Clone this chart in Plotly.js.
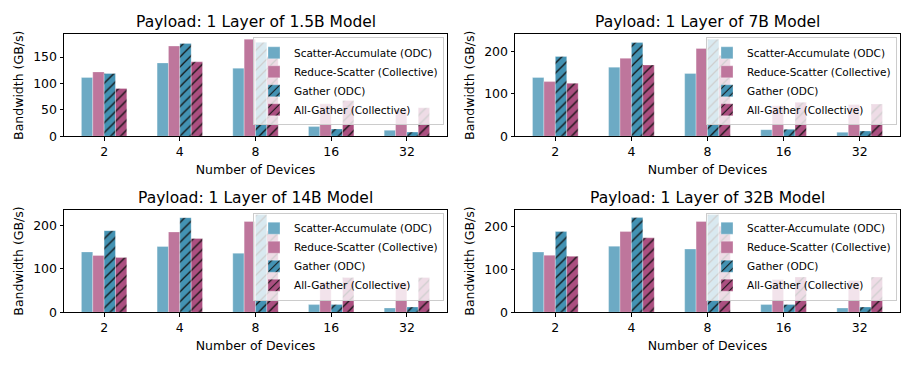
<!DOCTYPE html>
<html>
<head>
<meta charset="utf-8">
<script src="https://cdn.plot.ly/plotly-3.0.1.min.js"></script>
<style>
  html, body { margin: 0; padding: 0; background: #fff; }
  #chart { width: 914px; height: 366px; }
</style>
</head>
<body>
<div id="chart"></div>
<script>
// number of devices (x categories)
const devices = ['2', '4', '8', '16', '32'];
const seriesNames = ['Scatter-Accumulate (ODC)', 'Reduce-Scatter (Collective)', 'Gather (ODC)', 'All-Gather (Collective)'];
const panelTitles = [
  'Payload: 1 Layer of 1.5B Model',
  'Payload: 1 Layer of 7B Model',
  'Payload: 1 Layer of 14B Model',
  'Payload: 1 Layer of 32B Model'
];

// bandwidth in GB/s
const scatterAcc15B    = [111.5, 139, 129, 18.4, 11.4];
const reduceScatter15B = [122, 171, 184, 61.5, 51];
const gather15B        = [119, 176, 178, 14, 8];
const allGather15B     = [90.6, 141, 151, 68, 54];

const scatterAcc7B    = [138.6, 163, 148, 15.7, 9.4];
const reduceScatter7B = [129, 184, 207, 72, 75];
const gather7B        = [188, 221, 229, 16.5, 12.6];
const allGather7B     = [125, 168, 191, 80, 76];

const scatterAcc14B    = [139, 151.5, 136, 17.7, 10];
const reduceScatter14B = [131, 185, 209, 69, 68];
const gather14B        = [188, 218, 225, 17.7, 12.3];
const allGather14B     = [126, 170, 188, 80, 80];

const scatterAcc32B    = [140, 153.5, 147, 18, 10];
const reduceScatter32B = [132.5, 187.6, 211, 76, 73.6];
const gather32B        = [187.6, 220, 227, 18, 12.4];
const allGather32B     = [130, 173, 200, 82, 82];

const panels = [
  [scatterAcc15B, reduceScatter15B, gather15B, allGather15B],
  [scatterAcc7B, reduceScatter7B, gather7B, allGather7B],
  [scatterAcc14B, reduceScatter14B, gather14B, allGather14B],
  [scatterAcc32B, reduceScatter32B, gather32B, allGather32B]
];

// styling
const colors = ['#6daac4', '#be769c', '#4392b3', '#ab4f80'];
const hatched = [false, false, true, true];
const barW = 0.15;
const offsets = [-2 * barW, -barW, 0, barW];

const W = 914, H = 366;
// axes boxes in pixels: [left, right, top, bottom]
const boxes = [
  [64, 447, 34.3, 136.3],
  [515, 900, 34.3, 136.3],
  [64, 447, 209.7, 312.3],
  [515, 900, 209.7, 312.3]
];
const dticks = [50, 100, 100, 100];

const font = 'DejaVu Sans, sans-serif';
const xIdx = devices.map((d, i) => i);
const traces = [];
const layout = {
  width: W, height: H,
  margin: {l: 0, r: 0, t: 0, b: 0},
  paper_bgcolor: '#fff', plot_bgcolor: '#fff',
  barmode: 'overlay',
  font: {family: font, size: 12.5, color: '#000'},
  annotations: []
};

panels.forEach((vals, p) => {
  const n = p + 1;
  const xa = 'x' + (n === 1 ? '' : n), ya = 'y' + (n === 1 ? '' : n);
  const legName = 'legend' + (n === 1 ? '' : n);
  vals.forEach((v, s) => {
    const marker = {color: colors[s], line: {color: 'rgba(255,255,255,0.6)', width: 0.5}};
    if (hatched[s]) {
      marker.pattern = {shape: '/', fgcolor: '#111', bgcolor: colors[s], size: 7, solidity: 0.18};
    }
    traces.push({
      type: 'bar', name: seriesNames[s], x: xIdx, y: v,
      width: barW, offset: offsets[s],
      xaxis: xa, yaxis: ya, legend: legName,
      marker: marker, hoverinfo: 'y+name'
    });
  });
  const [l, r, t, b] = boxes[p];
  const ymax = Math.max(...vals.flat()) * 1.05;
  const axisCommon = {
    showline: true, mirror: true, linecolor: '#000', linewidth: 1,
    ticks: 'outside', ticklen: 3.5, tickcolor: '#000', showgrid: false,
    zeroline: false, automargin: false,
    tickfont: {family: font, size: 12.5, color: '#000'}
  };
  layout['xaxis' + (n === 1 ? '' : n)] = Object.assign({}, axisCommon, {
    domain: [l / W, r / W], anchor: ya.replace('axis', ''),
    range: [-0.53, 4.53], tickvals: xIdx, ticktext: devices,
    title: {text: 'Number of Devices', font: {family: font, size: 12.5}, standoff: 7}
  });
  layout['yaxis' + (n === 1 ? '' : n)] = Object.assign({}, axisCommon, {
    domain: [1 - b / H, 1 - t / H], anchor: xa.replace('axis', ''),
    range: [0, ymax], dtick: dticks[p], tick0: 0,
    title: {text: 'Bandwidth (GB/s)', font: {family: font, size: 12.5}, standoff: 6}
  });
  layout[legName] = {
    x: (r - 3) / W, xanchor: 'right', y: 1 - (t + 3) / H, yanchor: 'top',
    bgcolor: 'rgba(255,255,255,0.8)', bordercolor: '#cccccc', borderwidth: 1,
    font: {family: font, size: 10.5, color: '#000'}, tracegroupgap: 0, itemwidth: 30
  };
  layout.annotations.push({
    text: panelTitles[p], xref: 'paper', yref: 'paper',
    x: (l + r) / 2 / W, y: 1 - t / H, xanchor: 'center', yanchor: 'bottom',
    yshift: 1, showarrow: false, font: {family: font, size: 15.5, color: '#000'}
  });
});

Plotly.newPlot('chart', traces, layout, {displayModeBar: false, staticPlot: true});
</script>
</body>
</html>
